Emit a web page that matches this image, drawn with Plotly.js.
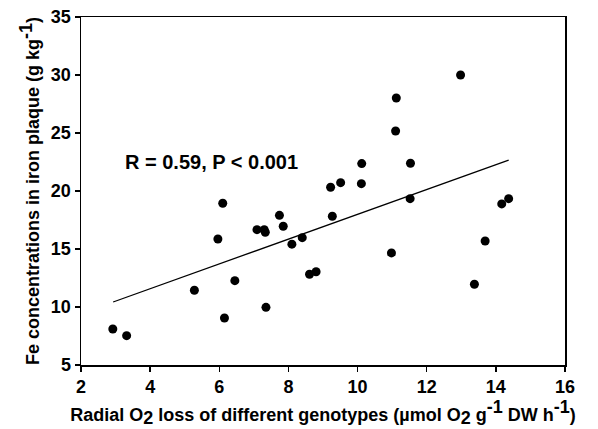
<!DOCTYPE html>
<html>
<head>
<meta charset="utf-8">
<script src="https://cdn.plot.ly/plotly-3.0.1.min.js"></script>
<style>html,body{margin:0;padding:0;background:#fff}#chart{width:598px;height:429px}</style>
</head>
<body>
<div id="chart"></div>
<script>
// Radial O2 loss (x) and Fe concentration in iron plaque (y)
var rolX = [2.92, 3.32, 5.28, 5.96, 6.10, 6.15, 6.45, 7.09, 7.30, 7.33, 7.35, 7.74, 7.85, 8.10, 8.40, 8.61, 8.80, 9.22, 9.27, 9.51, 10.11, 10.12, 10.98, 11.10, 11.12, 11.52, 11.53, 12.98, 13.38, 13.69, 14.17, 14.37];
var feY  = [8.10, 7.53, 11.44, 15.86, 18.94, 9.05, 12.27, 16.67, 16.67, 16.44, 9.97, 17.90, 16.96, 15.42, 15.98, 12.82, 13.04, 20.32, 17.82, 20.72, 20.63, 22.36, 14.66, 25.17, 28.02, 19.34, 22.39, 30.00, 11.96, 15.69, 18.89, 19.34];
// Regression line end points
var fitX = [2.93, 14.37];
var fitY = [10.43, 22.67];
var xTicks = [2, 4, 6, 8, 10, 12, 14, 16];
var yTicks = [5, 10, 15, 20, 25, 30, 35];
var statLabel = "R = 0.59, P < 0.001";

var fam = "Arial, 'Liberation Sans', sans-serif";
function full(s) { return '<span style="font-size:18px">' + s + '</span>'; }
var xTitle = 'Radial O<sub>' + full('2') + '</sub> loss of different genotypes (µmol O<sub>' + full('2') +
             '</sub> g<sup>' + full('-1') + '</sup> DW h<sup>' + full('-1') + '</sup>)';
var yTitle = 'Fe concentrations in iron plaque (g kg<sup>' + full('-1') + '</sup>)';

var traces = [
  {x: fitX, y: fitY, type: 'scatter', mode: 'lines', line: {color: '#000', width: 1.3}, hoverinfo: 'skip'},
  {x: rolX, y: feY, type: 'scatter', mode: 'markers', marker: {color: '#000', size: 9}}
];
var layout = {
  width: 598, height: 429,
  margin: {l: 81, r: 33, t: 17, b: 64},
  showlegend: false,
  paper_bgcolor: '#fff', plot_bgcolor: '#fff',
  font: {family: fam, color: '#000'},
  xaxis: {
    range: [2, 16], tickvals: xTicks, ticktext: xTicks.map(String),
    showgrid: false, zeroline: false,
    showline: true, linecolor: '#000', linewidth: 1.5, mirror: true,
    ticks: 'outside', ticklen: 5, tickwidth: 1.5, tickcolor: '#000',
    tickfont: {family: fam, size: 18, weight: 700},
    title: {text: xTitle, font: {family: fam, size: 18, weight: 700}, standoff: 6}
  },
  yaxis: {
    range: [5, 35], tickvals: yTicks, ticktext: yTicks.map(String),
    showgrid: false, zeroline: false,
    showline: true, linecolor: '#000', linewidth: 1.5, mirror: true,
    ticks: 'outside', ticklen: 5, tickwidth: 1.5, tickcolor: '#000',
    tickfont: {family: fam, size: 18, weight: 700},
    title: {text: yTitle, font: {family: fam, size: 18, weight: 700}, standoff: 6}
  },
  annotations: [{
    x: 3.21, y: 22.5, xref: 'x', yref: 'y', xanchor: 'left', yanchor: 'middle',
    text: statLabel, showarrow: false, font: {family: fam, size: 20, color: '#000', weight: 700}
  }]
};
Plotly.newPlot('chart', traces, layout, {staticPlot: true});
</script>
</body>
</html>
